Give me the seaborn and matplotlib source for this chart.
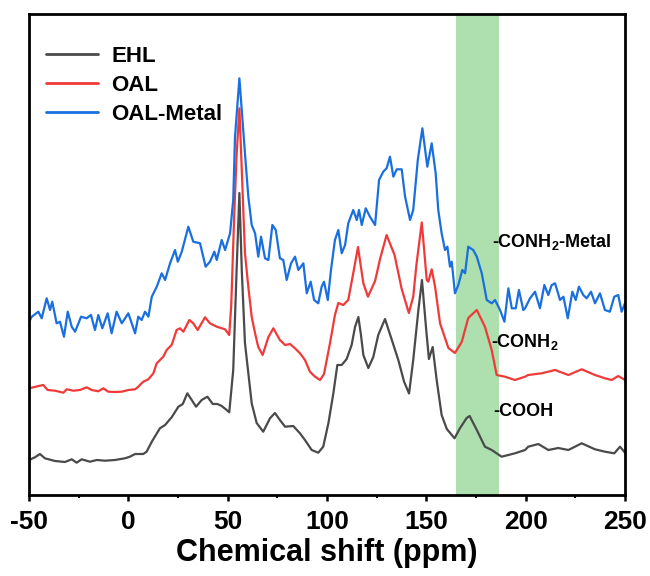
import numpy as np
import pandas as pd
import matplotlib
matplotlib.use("Agg")
import matplotlib.pyplot as plt
import seaborn as sns

# ---------------- data ----------------
ehl_ppm = [-50, -47.0, -44.5, -42.0, -36.9, -31.9, -28.5, -26.0, -23.5, -19.3, -15.9, -11.7, -6.7, -1.7,
           0.8, 3.4, 7.5, 9.2, 11.8, 15.9, 18.5, 21.8, 25.2, 27.4, 29.7, 34.1, 36.9, 39.8, 42.5, 44.8,
           47.0, 49.5, 50.8, 52.8, 54.5, 55.9, 57.1, 58.7, 62.1, 64.6, 67.9, 71.3, 73.8, 76.3, 78.9,
           83.0, 86.4, 88.9, 92.3, 95.6, 98.1, 100.7, 103.2, 105.2, 107.4, 109.9, 112.4, 114.1, 115.8,
           117.1, 118.3, 120.8, 123.3, 125.8, 129.2, 132.1, 135.9, 138.8, 141.3, 143.4, 146.0, 147.8,
           149.8, 151.3, 153.2, 155.2, 157.7, 160.3, 164.2, 166.9, 170.3, 171.8, 175.4, 179.5, 182.9,
           187.9, 194.6, 199.7, 201.3, 206.4, 211.4, 216.4, 221.5, 228.2, 234.9, 239.9, 244.6, 247.5, 250]
ehl_int = [35, 37.7, 41, 36.7, 34, 33, 35.7, 32.3, 35.7, 33.3, 35, 34.3, 35, 36.7,
           38.3, 41, 41, 43.3, 53.3, 66.7, 70, 77.7, 88.3, 91, 101.7, 88.3, 95, 98.3, 91, 91,
           89, 85, 82.7, 125, 225, 302, 225, 152, 91.7, 72, 63.3, 76.7, 82, 75, 68.3,
           69, 61.7, 55, 45, 42.3, 48.3, 71.7, 101.7, 130, 130, 136, 150, 168, 178,
           160, 140, 127, 138, 160, 176, 158.3, 135, 113.3, 101.5, 135, 185, 215,
           168.3, 136, 148, 115, 80, 66, 56.7, 66.7, 77, 79, 65, 48.3, 45,
           38.3, 41.7, 45, 48.3, 51, 45, 47, 45, 51.7, 45.7, 43.3, 41.7, 48.3, 42.3]

oal_ppm = [-50, -47.8, -44.5, -42.8, -40.6, -36.9, -32.7, -31.0, -27.7, -24.3, -21.0, -18.4, -15.1, -12.6,
           -10.1, -6.7, -3.3, 0.0, 3.4, 4.7, 7.5, 10.1, 12.6, 14.3, 17.6, 19.3, 21.8, 24.3, 26.0, 27.7,
           30.7, 32.7, 34.9, 38.6, 41.1, 44.5, 48.7, 50.8, 51.8, 53.3, 54.5, 55.9, 57.1, 58.7, 60.4,
           62.1, 63.8, 65.4, 67.6, 70.5, 73.0, 76.3, 78.9, 81.4, 83.9, 86.4, 88.9, 91.4, 94.0, 96.5,
           98.5, 101.5, 104.0, 105.7, 108.2, 110.7, 113.2, 115.6, 118.3, 120.6, 124.2, 126.7, 130.0,
           134.0, 137.6, 141.2, 143.4, 145.0, 147.7, 150.2, 151.0, 152.7, 154.4, 156.9, 161.1, 164.4,
           167.8, 171.1, 175.4, 179.5, 182.9, 185.4, 189.6, 194.6, 199.7, 201.3, 208.1, 214.8, 221.5,
           228.2, 234.9, 239.9, 243.3, 246.6, 250]
oal_int = [106.7, 107.7, 109.3, 110, 105, 104.3, 102.3, 105.7, 104.3, 105, 107.7, 105, 103.7, 106.7,
           103.3, 103, 103.3, 105, 105.7, 107.7, 113.3, 115.7, 121.7, 131.7, 138.3, 145, 150, 165, 166.7, 163.3,
           175, 171.7, 165, 177.7, 171.7, 168.3, 165.7, 160, 190, 280, 340, 386.7, 325, 242, 208,
           178, 161.7, 148, 140, 158, 166.7, 155, 150, 151, 146.7, 141.7, 135, 123.3, 118.3, 115,
           121, 151.7, 180, 192, 190, 195, 221.7, 248, 211.7, 198.3, 214, 236, 260,
           240, 206, 182, 198.3, 230, 272.5, 215, 213.3, 225.7, 208.3, 171.7, 147, 142,
           153, 177, 185, 168.3, 145, 120, 118.3, 115, 118.3, 120, 121.7, 125, 120,
           125.7, 120, 116.7, 115, 119, 115]

metal_ppm = [-50, -48.6, -45.3, -43.6, -41.1, -39.4, -38.3, -36.1, -34.4, -32.4, -30.5, -28.5, -26.8,
             -23.8, -21.0, -18.8, -16.8, -15.1, -13.1, -10.4, -8.4, -5.9, -3.3, 0.0, 3.4, 5.0, 6.7,
             8.4, 10.1, 11.8, 14.3, 16.8, 18.5, 21.0, 23.5, 24.9, 26.9, 30.2, 32.7, 36.1, 38.9, 41.1,
             43.3, 44.5, 47.0, 48.7, 51.2, 52.8, 53.7, 55.9, 58.7, 60.4, 62.1, 63.8, 65.4, 66.8, 68.8,
             70.5, 72.5, 74.2, 76.3, 78.0, 79.7, 81.9, 83.9, 85.6, 88.1, 89.8, 91.8, 93.5, 95.6, 97.3,
             98.5, 100.4, 102.0, 104.0, 105.7, 107.4, 109.1, 110.7, 113.2, 115.0, 116.1, 117.5, 119.5,
             121.6, 124.2, 126.2, 128.3, 130.0, 131.7, 133.4, 135.1, 137.6, 139.3, 141.8, 143.4, 145.7,
             148.0, 150.5, 152.7, 154.7, 156.0, 157.7, 159.4, 160.6, 161.9, 162.8, 164.4, 166.1, 168.1,
             169.5, 171.1, 173.6, 175.4, 177.9, 180.4, 182.9, 184.6, 187.1, 189.3, 191.3, 193.0, 195.0,
             196.6, 198.8, 199.7, 202.2, 204.7, 207.2, 209.4, 211.4, 213.1, 214.8, 217.3, 219.0, 221.2,
             223.5, 225.2, 226.8, 229.0, 230.7, 232.9, 234.9, 237.4, 239.9, 242.4, 244.6, 246.6, 248.3,
             250]
metal_int = [173.3, 178.3, 183.3, 176.7, 196.7, 185, 193.3, 171.7, 173.3, 158.3, 183.3, 168.3, 163.3,
             178.3, 176.7, 180, 165, 180, 166.7, 181.7, 161.7, 183.3, 171.7, 181.7, 161.7, 178.3, 175,
             183.3, 178.3, 198.3, 208.3, 221.7, 215, 231.7, 245, 233.3, 243.3, 268.3, 253.3, 251.7, 228.3, 233.3,
             243.3, 235, 255, 245, 261.7, 295, 358.3, 416.7, 341.7, 298.3, 270, 261.7, 238.3, 258.3, 236.7,
             235, 270, 265, 236.7, 235, 215, 231.7, 238.3, 225, 231.7, 201.7, 213.3, 195, 191.7, 208.3,
             213.3, 195, 225, 255, 265, 241.7, 250, 271.7, 285, 275, 285, 270, 286.7,
             278.3, 270, 315, 323.3, 326.7, 338.3, 318.3, 325.7, 325.7, 298.3, 275, 285, 335,
             366.7, 328.3, 351.7, 321.7, 285, 261.7, 245, 248.3, 228.3, 233.3, 201.7, 210, 225,
             221.7, 248.3, 245, 238.3, 221.7, 195, 191.7, 195, 185, 173.3, 206.7, 186.7, 186.7,
             205, 185, 186.7, 196.7, 203.3, 186.7, 210, 200, 210, 211.7, 195, 198.3, 176.7,
             203.3, 195, 208.3, 200, 196.7, 203.3, 191.7, 201.7, 185, 183.3, 198.3, 200, 183.3,
             191.7]

labels = ["EHL", "OAL", "OAL-Metal"]
colors = ["#4a4a4a", "#f03a3a", "#1a6fe0"]
band = (165, 186.5)
xticks = [-50, 0, 50, 100, 150, 200, 250]
annotations = [("-CONH$_{\\mathbf{2}}$-Metal", 183.3, 253), ("-CONH$_{\\mathbf{2}}$", 182.5, 153),
               ("-COOH", 183.5, 83)]

# ---------------- style ----------------
sns.set_style("white")
plt.rcParams["font.family"] = ["Liberation Sans", "DejaVu Sans"]
plt.rcParams["font.weight"] = "bold"
plt.rcParams["text.color"] = "black"
plt.rcParams["axes.labelcolor"] = "black"
plt.rcParams["xtick.color"] = "black"
plt.rcParams["mathtext.fontset"] = "custom"
plt.rcParams["mathtext.rm"] = "Liberation Sans:bold"
plt.rcParams["mathtext.bf"] = "Liberation Sans:bold"

df = pd.concat([
    pd.DataFrame({"ppm": ehl_ppm, "intensity": ehl_int, "sample": labels[0]}),
    pd.DataFrame({"ppm": oal_ppm, "intensity": oal_int, "sample": labels[1]}),
    pd.DataFrame({"ppm": metal_ppm, "intensity": metal_int, "sample": labels[2]}),
], ignore_index=True)

fig = plt.figure(figsize=(6.5, 5.76), dpi=100)
ax = fig.add_axes([29 / 650, 81 / 576, 596 / 650, 481 / 576])

ax.axvspan(band[0], band[1], color="#aedfae", lw=0, zorder=0)

sns.lineplot(data=df, x="ppm", y="intensity", hue="sample", palette=dict(zip(labels, colors)),
             hue_order=labels, estimator=None, sort=False, lw=1.6, ax=ax)
for ln in ax.get_lines():
    ln.set_solid_joinstyle("round")

ax.set_xlim(-50, 250)
ax.set_ylim(0, 481)
ax.set_xticks(xticks)
ax.set_xticklabels([str(t) for t in xticks], fontsize=19, fontweight="bold")
ax.set_xticks(np.arange(-25, 250, 50), minor=True)
ax.set_yticks([])
ax.tick_params(axis="x", which="major", direction="out", length=4.5, width=1.8, pad=6, bottom=True)
ax.tick_params(axis="x", which="minor", direction="out", length=2.5, width=1.5, bottom=True)
ax.set_xlabel("Chemical shift (ppm)", fontsize=22, fontweight="bold", labelpad=3)
ax.set_ylabel("")
for s in ax.spines.values():
    s.set_linewidth(2.0)
    s.set_color("black")

for txt, x, y in annotations:
    ax.text(x, y, txt, fontsize=13, fontweight="bold", ha="left", va="center")

leg = ax.legend(loc="upper left", bbox_to_anchor=(0.0285, 0.933), frameon=False,
                borderpad=0, borderaxespad=0,
                prop={"size": 16, "weight": "bold"}, handlelength=2.35, handletextpad=0.6,
                labelspacing=0.36)
for line in leg.get_lines():
    line.set_linewidth(2.0)

fig.savefig("out.png", dpi=100)
